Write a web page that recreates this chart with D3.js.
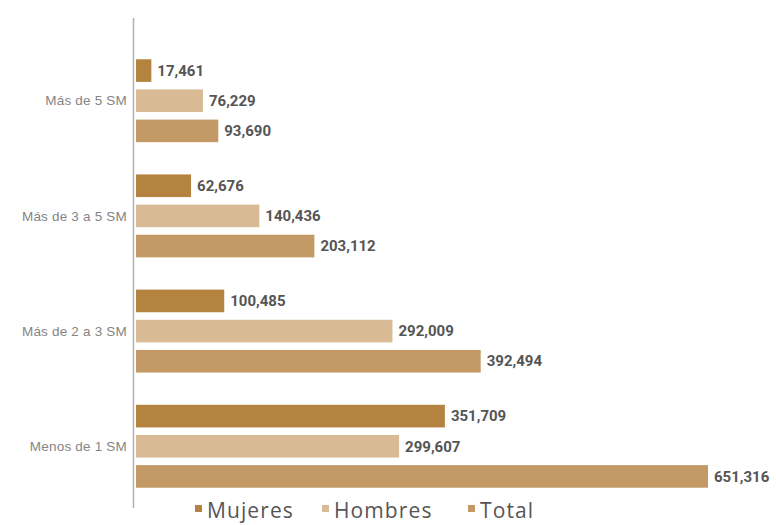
<!DOCTYPE html>
<html>
<head>
<meta charset="utf-8">
<script src="https://cdn.jsdelivr.net/npm/d3@7"></script>
<style>
  html, body { margin: 0; padding: 0; background: #ffffff; }
  svg { display: block; }
</style>
</head>
<body>
<div id="chart"></div>
<script>
const categories = ["Más de 5 SM", "Más de 3 a 5 SM", "Más de 2 a 3 SM", "Menos de 1 SM"];
const seriesNames = ["Mujeres", "Hombres", "Total"];
const mujeres = [17461, 62676, 100485, 351709];
const hombres = [76229, 140436, 292009, 299607];
const total = [93690, 203112, 392494, 651316];
const seriesColors = ["#b3833f", "#d8ba94", "#c39a66"];

const W = 776, H = 525;
const seriesValues = [mujeres, hombres, total];
const rows = [];
categories.forEach((c, i) => {
  seriesNames.forEach((s, j) => rows.push({ cat: c, series: s, value: seriesValues[j][i], color: seriesColors[j] }));
});

const svg = d3.select("#chart").append("svg").attr("width", W).attr("height", H);

const x = d3.scaleLinear().domain([0, d3.max(total)]).range([136, 708]);
const y0 = d3.scaleBand().domain(categories).range([42, 505]).paddingInner(0.28).paddingOuter(0.15);
const y1 = d3.scaleBand().domain(seriesNames).range([0, y0.bandwidth()]).paddingInner(0.25);

// axis line
svg.append("line")
  .attr("x1", 133.5).attr("x2", 133.5).attr("y1", 18).attr("y2", 508)
  .attr("stroke", "#b0b0b0").attr("stroke-width", 1.5);

// category labels
const yAxis = d3.axisLeft(y0).tickSize(0).tickPadding(0);
const gAxis = svg.append("g").attr("transform", "translate(127,0)").call(yAxis);
gAxis.select(".domain").remove();
gAxis.selectAll("text")
  .attr("font-family", "'Liberation Sans', Arial, sans-serif")
  .attr("font-size", 13.5).attr("letter-spacing", 0.2).attr("fill", "#858585")
  .attr("dy", "0.35em");

// bars
svg.append("g").selectAll("rect").data(rows).join("rect")
  .attr("x", x(0))
  .attr("y", d => y0(d.cat) + y1(d.series))
  .attr("width", d => x(d.value) - x(0))
  .attr("height", y1.bandwidth())
  .attr("fill", d => d.color);

// value labels
svg.append("g").selectAll("text").data(rows).join("text")
  .attr("x", d => x(d.value) + 6)
  .attr("y", d => y0(d.cat) + y1(d.series) + y1.bandwidth() / 2)
  .attr("dy", "0.35em")
  .attr("font-family", "Roboto, 'Liberation Sans', Arial, sans-serif")
  .attr("font-weight", "bold")
  .attr("font-size", 15)
  .attr("fill", "#555555")
  .text(d => d3.format(",")(d.value));

// legend
const legendX = [195, 322, 468];
const lg = svg.append("g").selectAll("g").data(seriesNames).join("g")
  .attr("transform", (d, i) => `translate(${legendX[i]},0)`);
lg.append("rect").attr("x", 0).attr("y", 505).attr("width", 7).attr("height", 7)
  .attr("fill", (d, i) => seriesColors[i]);
lg.append("text").attr("x", 12).attr("y", 518)
  .attr("font-family", "'Open Sans', Roboto, Arial, sans-serif")
  .attr("font-size", 21).attr("letter-spacing", 1.1).attr("fill", "#555555")
  .text(d => d);
</script>
</body>
</html>
